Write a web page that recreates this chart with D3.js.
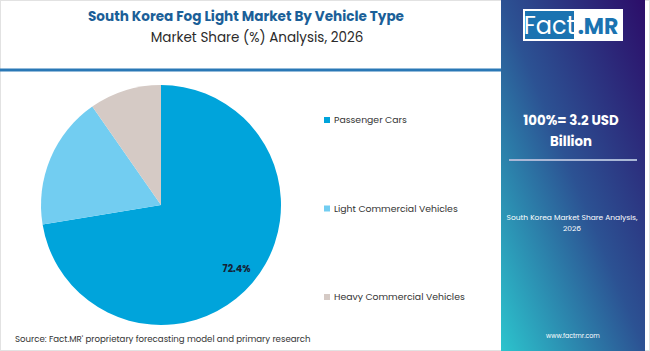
<!DOCTYPE html>
<html>
<head>
<meta charset="utf-8">
<script src="https://cdn.jsdelivr.net/npm/d3@7"></script>
<style>
  body { margin: 0; background: #fff; }
  svg { display: block; font-family: "Poppins", "Open Sans", sans-serif; }
</style>
</head>
<body>
<svg id="chart" width="650" height="351"></svg>
<script>
// data
let categories = ['Passenger Cars', 'Light Commercial Vehicles', 'Heavy Commercial Vehicles']
let shares = [72.4, 17.9, 9.7]
let colors = ['#00a4db', '#72cdf1', '#d5cac5']
let shownLabels = ['72.4%', '', '']

let svg = d3.select('#chart')

// page border
svg.append('rect')
  .attr('x', 0.5).attr('y', 0.5)
  .attr('width', 649).attr('height', 350)
  .style('fill', '#fff')
  .style('stroke', '#e2e2e2')

// right panel gradient
let defs = svg.append('defs')
let grad = defs.append('linearGradient')
  .attr('id', 'panelGrad')
  .attr('x1', '100%').attr('y1', '0%')
  .attr('x2', '0%').attr('y2', '100%')
grad.append('stop').attr('offset', '0%').attr('stop-color', '#2c0d69')
grad.append('stop').attr('offset', '50%').attr('stop-color', '#2c5293')
grad.append('stop').attr('offset', '100%').attr('stop-color', '#2cc4cd')

svg.append('rect')
  .attr('x', 501).attr('y', 0)
  .attr('width', 144).attr('height', 351)
  .style('fill', 'url(#panelGrad)')

// title
svg.append('text')
  .attr('x', 246).attr('y', 21)
  .attr('text-anchor', 'middle')
  .style('font-size', '13.6px')
  .style('font-weight', 'bold')
  .style('fill', '#1b5f98')
  .text('South Korea Fog Light Market By Vehicle Type')

svg.append('text')
  .attr('x', 257).attr('y', 42)
  .attr('text-anchor', 'middle')
  .style('font-size', '13.5px')
  .style('fill', '#2b2b2b')
  .text('Market Share (%) Analysis, 2026')

// divider line
svg.append('line')
  .attr('x1', 0).attr('y1', 70)
  .attr('x2', 501).attr('y2', 70)
  .style('stroke', '#2a78b6')
  .style('stroke-width', 3)

// pie
let pieData = d3.pie().sort(null).value(d => d)(shares)
let arc = d3.arc().innerRadius(0).outerRadius(120)

let pieG = svg.append('g')
  .attr('transform', 'translate(161, 205)')

pieG.selectAll('path')
  .data(pieData)
  .join('path')
  .attr('d', arc)
  .style('fill', (d, i) => colors[i])

let labelArc = d3.arc().innerRadius(99).outerRadius(99)

pieG.selectAll('text')
  .data(pieData)
  .join('text')
  .attr('transform', d => {
    let c = labelArc.centroid(d)
    return 'translate(' + c[0] + ',' + c[1] + ')'
  })
  .attr('text-anchor', 'middle')
  .attr('dy', '0.35em')
  .style('font-size', '9.5px')
  .style('font-weight', 'bold')
  .style('fill', '#152235')
  .text((d, i) => shownLabels[i])

// legend
let legendY = d3.scalePoint()
  .domain(categories)
  .range([120, 297])

let legend = svg.append('g')
  .selectAll('g')
  .data(categories)
  .join('g')
  .attr('transform', d => 'translate(324,' + legendY(d) + ')')

legend.append('rect')
  .attr('x', 0).attr('y', -3)
  .attr('width', 6).attr('height', 6)
  .style('fill', (d, i) => colors[i])

legend.append('text')
  .attr('x', 10).attr('y', 0)
  .attr('dy', '0.35em')
  .style('font-size', '9.3px')
  .style('fill', '#333')
  .text(d => d)

// logo
let logo = svg.append('g')
logo.append('rect')
  .attr('x', 523).attr('y', 9)
  .attr('width', 100).attr('height', 32)
  .style('fill', '#fff')
logo.append('rect')
  .attr('x', 525).attr('y', 11)
  .attr('width', 49).attr('height', 28)
  .style('fill', '#1a73b1')
logo.append('text')
  .attr('x', 549.5).attr('y', 34)
  .attr('text-anchor', 'middle')
  .style('font-size', '24px')
  .style('fill', '#fff')
  .text('Fact')
logo.append('text')
  .attr('x', 598).attr('y', 34)
  .attr('text-anchor', 'middle')
  .style('font-size', '22px')
  .style('font-weight', 'bold')
  .style('fill', '#1a73b1')
  .text('.MR')

// panel texts
svg.append('text')
  .attr('x', 571).attr('y', 125)
  .attr('text-anchor', 'middle')
  .style('font-size', '13.3px')
  .style('font-weight', 'bold')
  .style('fill', '#fff')
  .text('100%= 3.2 USD')

svg.append('text')
  .attr('x', 571).attr('y', 146)
  .attr('text-anchor', 'middle')
  .style('font-size', '13.3px')
  .style('font-weight', 'bold')
  .style('fill', '#fff')
  .text('Billion')

svg.append('line')
  .attr('x1', 509).attr('y1', 160)
  .attr('x2', 637).attr('y2', 160)
  .style('stroke', '#a9b7d6')
  .style('stroke-width', 2)

svg.append('text')
  .attr('x', 572).attr('y', 219.5)
  .attr('text-anchor', 'middle')
  .style('font-size', '7.5px')
  .style('fill', '#fff')
  .text('South Korea Market Share Analysis,')

svg.append('text')
  .attr('x', 572).attr('y', 230.5)
  .attr('text-anchor', 'middle')
  .style('font-size', '7.5px')
  .style('fill', '#fff')
  .text('2026')

svg.append('text')
  .attr('x', 573).attr('y', 338)
  .attr('text-anchor', 'middle')
  .style('font-size', '6.3px')
  .style('fill', '#fff')
  .text('www.factmr.com')

// source
svg.append('text')
  .attr('x', 15).attr('y', 342)
  .style('font-size', '8.6px')
  .style('fill', '#333')
  .text('Source: Fact.MR\' proprietary forecasting model and primary research')
</script>
</body>
</html>
